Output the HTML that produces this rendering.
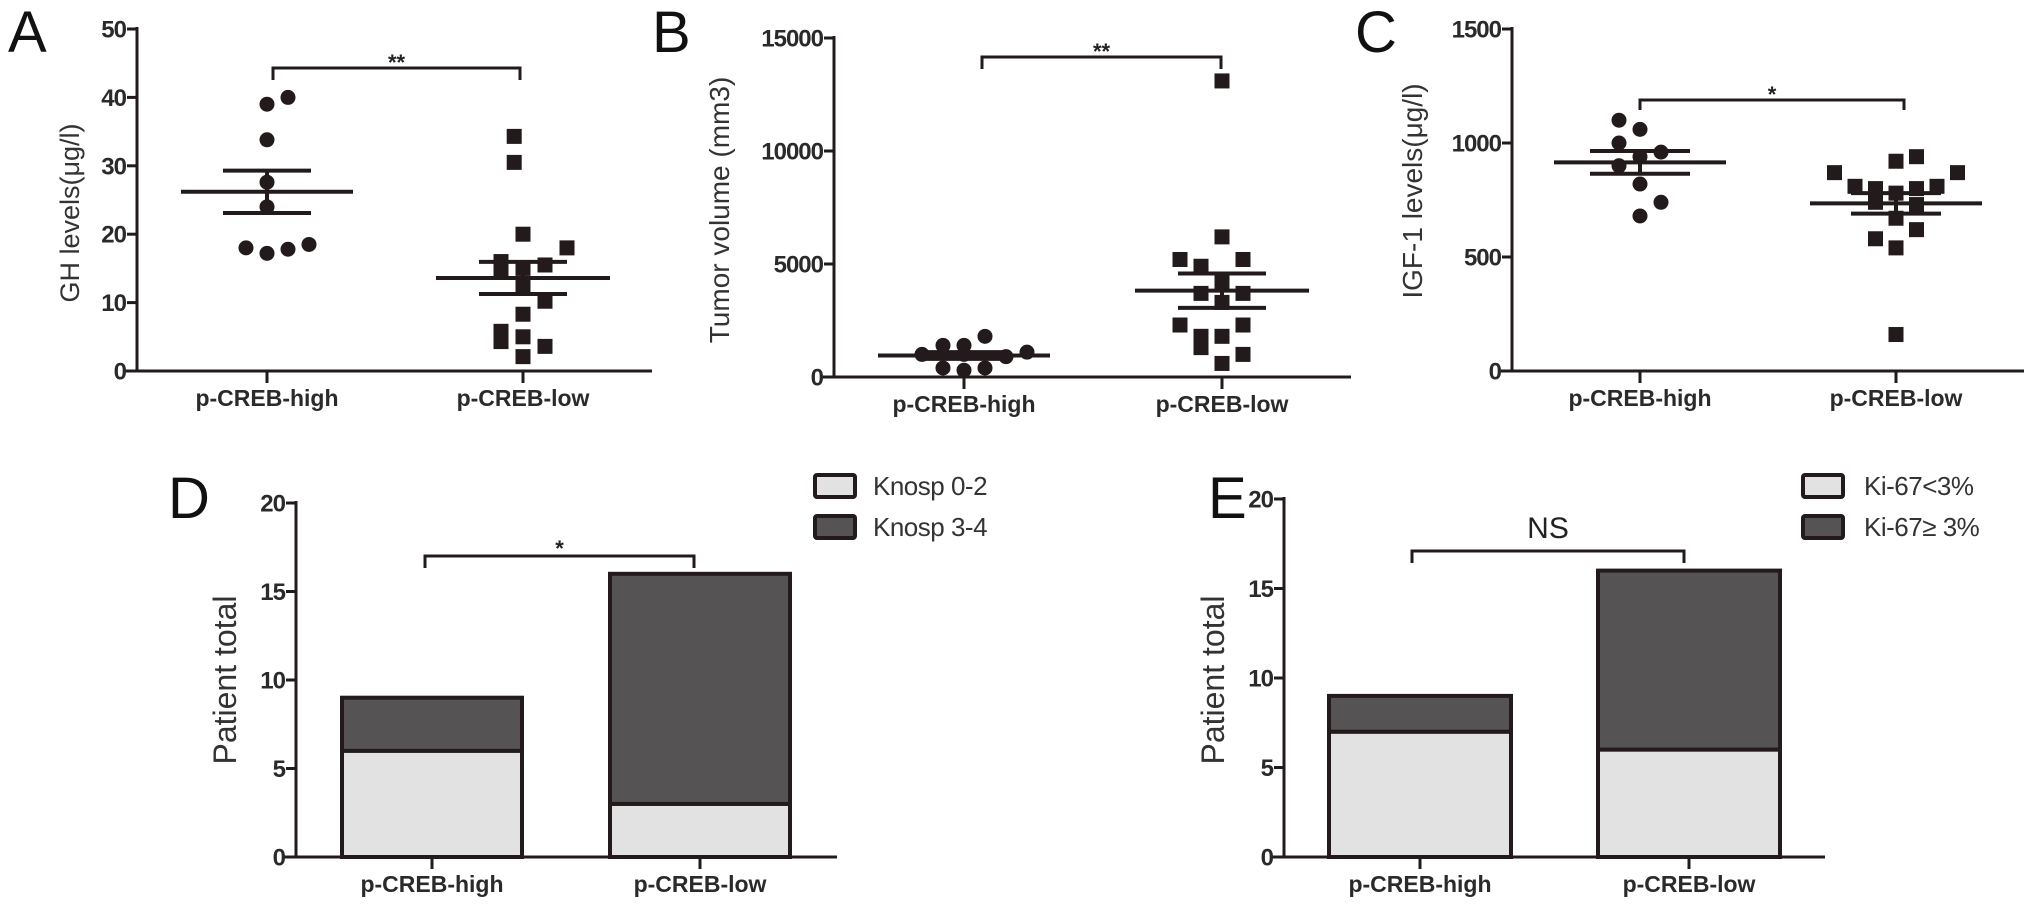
<!DOCTYPE html>
<html><head><meta charset="utf-8"><title>p-CREB figure</title>
<style>
html,body{margin:0;padding:0;background:#fff;}
svg{display:block;font-family:"Liberation Sans",Arial,sans-serif;}
</style></head>
<body>
<svg id="fig" width="2031" height="909" viewBox="0 0 2031 909" xmlns="http://www.w3.org/2000/svg"></svg>
<script>
// ---------- data ----------
const groups = ["p-CREB-high", "p-CREB-low"];
// Panel A: GH levels
const aHigh = [40, 39, 33.8, 27.6, 24, 18, 17.2, 17.8, 18.5];
const aHighSlot = [1, 0, 0, 0, 0, -1, 0, 1, 2];
const aLow = [34.3, 30.5, 20, 18, 16, 15.5, 15, 14.5, 12.3, 10.2, 8.3, 5.8, 5, 4.3, 3.6, 2.1];
const aLowSlot = [-0.4, -0.4, 0, 2, -1, 1, 0, -1, 0, 1, 0, -1, 0, -1, 1, 0];
const aStats = { highMean: 26.2, highSem: 3.1, lowMean: 13.6, lowSem: 2.35 };
const aTicks = [0, 10, 20, 30, 40, 50];
// Panel B: tumor volume
const bHigh = [1800, 1400, 1400, 1000, 1100, 900, 1000, 400, 300, 400];
const bHighSlot = [1, -1, 0, -2, 3, 2, 0, -1, 0, 1];
const bLow = [13100, 6200, 5200, 5200, 4900, 4200, 3700, 3700, 3300, 2300, 2300, 1800, 1800, 1300, 1000, 600];
const bLowSlot = [0, 0, -2, 1, -1, 0, -1, 1, 0, -2, 1, -1, 0, -1, 1, 0];
const bStats = { highMean: 950, highSem: 150, lowMean: 3820, lowSem: 760 };
const bTicks = [0, 5000, 10000, 15000];
// Panel C: IGF-1
const cHigh = [1100, 1060, 1000, 960, 940, 900, 820, 740, 680];
const cHighSlot = [-1, 0, -1, 1, 0, -1, 0, 1, 0];
const cLow = [940, 920, 870, 870, 810, 810, 800, 800, 780, 740, 730, 670, 620, 580, 540, 160];
const cLowSlot = [1, 0, -3, 3, -2, 2, -1, 1, 0, -1, 1, 0, 1, -1, 0, 0];
const cStats = { highMean: 915, highSem: 50, lowMean: 735, lowSem: 45 };
const cTicks = [0, 500, 1000, 1500];
// Panel D: Knosp
const dLight = [6, 3];
const dDark = [3, 13];
const dLegend = ["Knosp 0-2", "Knosp 3-4"];
// Panel E: Ki-67
const eLight = [7, 6];
const eDark = [2, 10];
const eLegend = ["Ki-67<3%", "Ki-67\u2265 3%"];
const barTicks = [0, 5, 10, 15, 20];

// ---------- helpers ----------
const NS = "http://www.w3.org/2000/svg";
const svg = document.getElementById("fig");
const INK = "#231a1c";
function mk(tag, attrs, parent) {
  const e = document.createElementNS(NS, tag);
  for (const k in attrs) e.setAttribute(k, attrs[k]);
  (parent || svg).appendChild(e);
  return e;
}
function txt(str, attrs, parent) { const t = mk("text", attrs, parent); t.textContent = str; return t; }
function lin(x1, y1, x2, y2, w, parent) { return mk("line", { x1, y1, x2, y2, stroke: INK, "stroke-width": w }, parent); }

function axes(g, P, ticks, fmtSize) {
  const ax = lin(P.ax, P.yTop - 2, P.ax, P.y0 + 1.5, 3, g);
  
  
  const xa = lin(P.ax - 12, P.y0, P.xEnd, P.y0, 3, g);
  
  
  ticks.forEach(v => {
    const y = P.sy(v);
    lin(P.ax - 10, y, P.ax, y, 3, g);
    const t = txt(String(v), { x: P.ax - 11, y: y + 8.5, "text-anchor": "end", "font-size": fmtSize, "font-weight": "bold", fill: "#2a2a2a", "letter-spacing": "-1" }, g);
    
    
  });
  groups.forEach((name, i) => {
    const cx = P.gx[i];
    lin(cx, P.y0, cx, P.y0 + 12, 3, g);
    const t = txt(name, { x: cx, y: P.y0 + 35, "text-anchor": "middle", "font-size": 23, "font-weight": "bold", fill: "#2a2a2a" }, g);
    
    
  });
}
function yTitle(g, str, x, y, size) {
  const t = txt(str, { x: 0, y: 0, transform: `translate(${x},${y}) rotate(-90)`, "text-anchor": "middle", "font-size": size, fill: "#333" }, g);
  
  
}
function letter(str, x, y) {
  const t = txt(str, { x, y, "font-size": 58, fill: "#111" });
  
  
}
function bracket(g, x1, x2, y, drop, label, size, ly) {
  const p = mk("path", { d: `M${x1},${y + drop} V${y} H${x2} V${y + drop}`, fill: "none", stroke: INK, "stroke-width": 3 }, g);
  
  
  const t = txt(label, { x: (x1 + x2) / 2, y: ly, "text-anchor": "middle", "font-size": size, fill: "#222", "font-weight": label === "NS" ? "normal" : "bold" }, g);
  
  
}
function scatter(g, P, vals, slots, gi, shape, step) {
  vals.forEach((v, i) => {
    const cx = P.gx[gi] + slots[i] * step, cy = P.sy(v);
    let m;
    if (shape === "circle") m = mk("circle", { cx, cy, r: 7.5, fill: INK }, g);
    else m = mk("rect", { x: cx - 7.5, y: cy - 7.5, width: 15, height: 15, fill: INK }, g);
    
    
  });
}
function meanSem(g, P, gi, mean, sem, halfMean, halfSem) {
  const cx = P.gx[gi];
  const m = lin(cx - halfMean, P.sy(mean), cx + halfMean, P.sy(mean), 4, g);
  
  
  lin(cx, P.sy(mean + sem), cx, P.sy(mean - sem), 4, g);
  [mean + sem, mean - sem].forEach(v => {
    const s = lin(cx - halfSem, P.sy(v), cx + halfSem, P.sy(v), 4, g);
    
    
  });
}
function panel(name) { const g = mk("g", {});   return g; }
function mkScale(y0, yTop, vmax) { return v => y0 - (v / vmax) * (y0 - yTop); }

// ---------- Panel A ----------
{
  const g = panel("panel-a-gh-levels");
  const P = { ax: 137, y0: 371, yTop: 29, xEnd: 652, gx: [267, 523] };
  P.sy = mkScale(P.y0, P.yTop, 50);
  letter("A", 8, 52);
  yTitle(g, "GH levels(\u03bcg/l)", 79, 213, 27);
  axes(g, P, aTicks, 24);
  scatter(g, P, aHigh, aHighSlot, 0, "circle", 21);
  scatter(g, P, aLow, aLowSlot, 1, "square", 22);
  meanSem(g, P, 0, aStats.highMean, aStats.highSem, 86, 44);
  meanSem(g, P, 1, aStats.lowMean, aStats.lowSem, 87, 44);
  bracket(g, 273, 520, 68, 12, "**", 22, 70);
}
// ---------- Panel B ----------
{
  const g = panel("panel-b-tumor-volume");
  const P = { ax: 834, y0: 377, yTop: 38, xEnd: 1351, gx: [964, 1222] };
  P.sy = mkScale(P.y0, P.yTop, 15000);
  letter("B", 652, 52);
  yTitle(g, "Tumor volume (mm3)", 729, 210, 28);
  axes(g, P, bTicks, 24);
  scatter(g, P, bHigh, bHighSlot, 0, "circle", 21);
  scatter(g, P, bLow, bLowSlot, 1, "square", 21);
  meanSem(g, P, 0, bStats.highMean, bStats.highSem, 86, 44);
  meanSem(g, P, 1, bStats.lowMean, bStats.lowSem, 87, 44);
  bracket(g, 982, 1221, 57, 12, "**", 22, 59);
}
// ---------- Panel C ----------
{
  const g = panel("panel-c-igf1-levels");
  const P = { ax: 1512, y0: 371, yTop: 29, xEnd: 2024, gx: [1640, 1896] };
  P.sy = mkScale(P.y0, P.yTop, 1500);
  letter("C", 1355, 52);
  yTitle(g, "IGF-1 levels(\u03bcg/l)", 1422, 191, 28);
  axes(g, P, cTicks, 24);
  scatter(g, P, cHigh, cHighSlot, 0, "circle", 21);
  scatter(g, P, cLow, cLowSlot, 1, "square", 20.5);
  meanSem(g, P, 0, cStats.highMean, cStats.highSem, 86, 50);
  meanSem(g, P, 1, cStats.lowMean, cStats.lowSem, 86, 45);
  bracket(g, 1640, 1904, 100, 10, "*", 22, 102);
}
// ---------- stacked bar panels ----------
function barPanel(name, lab, labX, P, light, dark, legend, lgX, lgTextX, brk) {
  const g = panel(name);
  P.sy = mkScale(P.y0, P.yTop, 20);
  letter(lab, labX, 518);
  yTitle(g, "Patient  total", P.ax - 60, 680, 32);
  const bw = P.bw;
  groups.forEach((gname, i) => {
    const x = P.gx[i] - bw / 2;
    const r1 = mk("rect", { x, y: P.sy(light[i]), width: bw, height: P.y0 - P.sy(light[i]), fill: "#e2e2e2", stroke: INK, "stroke-width": 4 }, g);
    
    
    const top = light[i] + dark[i];
    const r2 = mk("rect", { x, y: P.sy(top), width: bw, height: P.sy(light[i]) - P.sy(top), fill: "#565354", stroke: INK, "stroke-width": 4 }, g);
    
    
  });
  axes(g, P, barTicks, 24);
  legend.forEach((s, i) => {
    const y = 475 + i * 41;
    const b = mk("rect", { x: lgX, y, width: 40, height: 22, fill: i ? "#565354" : "#e2e2e2", stroke: INK, "stroke-width": 4, rx: 2 }, g);
    
    
    const t = txt(s, { x: lgTextX, y: y + 20, "font-size": 26, fill: "#333", "letter-spacing": "-0.5" }, g);
    
    
  });
  bracket(g, brk[0], brk[1], brk[2], 12, brk[3], brk[4], brk[5]);
}
barPanel("panel-d-knosp", "D", 168,
  { ax: 296, y0: 857, yTop: 503, xEnd: 837, gx: [432, 700], bw: 180 },
  dLight, dDark, dLegend, 815, 873, [425, 694, 556, "*", 22, 556]);
barPanel("panel-e-ki67", "E", 1208,
  { ax: 1284, y0: 857, yTop: 499, xEnd: 1825, gx: [1420, 1689], bw: 182 },
  eLight, eDark, eLegend, 1803, 1864, [1412, 1684, 551, "NS", 30, 538]);
</script>
</body></html>
